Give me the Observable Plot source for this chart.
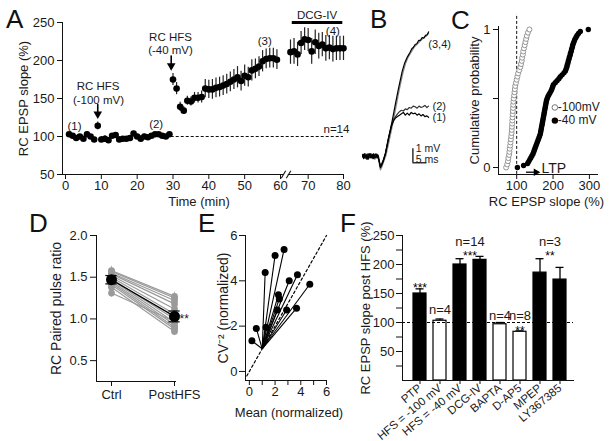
<!DOCTYPE html>
<html><head><meta charset="utf-8">
<script src="https://cdn.jsdelivr.net/npm/d3@7"></script>
<script src="https://cdn.jsdelivr.net/npm/@observablehq/plot@0.6"></script>
<style>
body{margin:0;background:#fff;}
#fig{position:relative;width:609px;height:441px;overflow:hidden;background:#fff;font-family:"Liberation Sans",Arial,Helvetica,sans-serif;color:#111;}
.p{position:absolute;}
.lt{position:absolute;font-size:26px;line-height:26px;color:#111;}
</style></head><body><div id="fig"></div>
<script>
// ---------- Panel A data ----------
const timeA = [1,2,3,4,5,6,7,8,9,10,11,12,13,14,15,16,17,18,19,20,21,22,23,24,25,26,27,28,29,
  30,31,32,33,34,35,36,37,38,39,40,41,42,43,44,45,46,47,48,49,50,51,52,53,54,55,56,57,58,59,
  65,66,67,68,69,70,71,72,73,74,75,76,77,78,79,80];
const slopeA = [103,101,98,100,97,103,100,96,114,96,97,95,101,102,96,97,97,98,104,100,97,100,99,101,103,103,101,100,103,
  175,163,139,134,147,146,151,151,152,163,162,162,164,165,167,169,172,175,178,173,180,178,187,189,192,199,202,203,203,201,
  211,212,208,223,228,227,212,224,219,221,216,217,215,216,216,216];
const semA = [2,2,2,2,2,3,2,3,5,4,4,3,2,3,4,3,3,3,3,3,4,3,2,2,2,2,2,2,2,
  8,8,6,5,6,6,7,7,8,12,12,13,13,13,13,13,13,13,14,13,14,13,14,13,13,14,13,13,13,13,
  16,17,16,15,15,15,17,16,17,16,17,16,17,16,16,16];
const ticksAx = [0,10,20,30,40,50,60,70,80];
const ticksAy = [50,100,150,200,250];
const notesA = [
  {t:9.1, v:165.5, s:"RC HFS"}, {t:9.2, v:148, s:"(-100 mV)"},
  {t:29.3, v:230, s:"RC HFS"}, {t:29.3, v:213.5, s:"(-40 mV)"},
  {t:2.5, v:113.5, s:"(1)"}, {t:25.3, v:116.5, s:"(2)"},
  {t:55.6, v:225.5, s:"(3)"}, {t:77, v:238, s:"(4)"},
  {t:72.5, v:259, s:"DCG-IV"}, {t:78, v:109.5, s:"n=14"}];
const arrowsA = [{t:9, y1:142, y2:129.5}, {t:29.5, y1:206, y2:193}];

// ---------- Panel B data (traces, ms / mV) ----------
const trace1 = [[0,0],[0.4,0.15],[0.8,-0.1],[1.2,0.1],[1.6,-0.2],[2,0.05],[2.4,0.2],[2.8,-0.1],[3.2,0.1],[3.6,-0.05],[4,0.2],[4.4,-0.1],[4.8,0],[5.2,0.15],[5.6,-0.1],[6,-0.35],[6.4,-0.7],[6.9,-0.55],[7.5,-0.25],[8.2,0.2],[9.3,1.3],[10.4,2.2],[11.1,2.55],[11.8,2.75],[12.5,2.85],[13.2,2.95],[13.9,3.05],[14.6,3.15],[15.3,2.95],[16,3.1],[16.7,2.95],[17.4,3.15],[18.1,3.05],[18.8,3.1],[19.5,2.95],[20.2,3.05],[20.9,2.9],[21.6,3],[22.3,2.85],[23,2.9],[23.6,2.8]];
const trace2 = [[0,0.15],[0.4,-0.1],[0.8,0.05],[1.2,-0.15],[1.6,0.1],[2,0.2],[2.4,-0.1],[2.8,0.1],[3.2,0.15],[3.6,-0.15],[4,0.05],[4.4,0.15],[4.8,-0.1],[5.2,0.05],[5.6,0.1],[6,-0.3],[6.4,-0.75],[6.9,-0.5],[7.5,-0.2],[8.2,0.25],[9.3,1.35],[10.4,2.25],[11.1,2.65],[11.8,2.85],[12.5,3.05],[13.2,3.2],[13.9,3.3],[14.6,3.25],[15.3,3.4],[16,3.35],[16.7,3.5],[17.4,3.45],[18.1,3.6],[18.8,3.55],[19.5,3.45],[20.2,3.6],[20.9,3.5],[21.6,3.55],[22.3,3.65],[23,3.5],[23.6,3.6]];
const trace3 = [[0,0.1],[0.4,-0.15],[0.8,0.2],[1.2,-0.05],[1.6,0.15],[2,-0.2],[2.4,0.1],[2.8,0.2],[3.2,-0.1],[3.6,0.15],[4,-0.15],[4.4,0.05],[4.8,0.2],[5.2,-0.1],[5.6,0.05],[6,-0.4],[6.4,-0.8],[6.9,-0.6],[7.5,-0.3],[8.2,0.2],[9.3,1.3],[10.6,2.55],[11.8,3.8],[12.9,4.9],[14.2,6.1],[15.1,6.7],[16,7.1],[17,7.45],[17.6,7.7],[18.2,7.8],[18.8,8],[19.4,8.05],[20.1,8.3],[20.7,8.3],[21.3,8.5],[21.9,8.45],[22.5,8.65],[23.1,8.7],[23.6,8.9]];
const trace4 = [[0,-0.05],[0.4,0.15],[0.8,-0.1],[1.2,0.2],[1.6,-0.15],[2,0.1],[2.4,-0.1],[2.8,0.05],[3.2,0.2],[3.6,-0.1],[4,0.1],[4.4,-0.2],[4.8,0.05],[5.2,0.15],[5.6,-0.1],[6,-0.5],[6.4,-0.95],[6.9,-0.75],[7.5,-0.4],[8.4,0.1],[9.5,1.1],[10.8,2.35],[12,3.6],[13.1,4.75],[14.4,5.95],[15.3,6.6],[16.2,7.05],[17.2,7.4],[18.4,7.8],[19.6,8.05],[20.9,8.3],[21.9,8.5],[22.8,8.6],[23.6,8.8]];
const labelsB = [{t:23.5, v:8.0, s:"(3,4)"}, {t:25, v:3.57, s:"(2)"}, {t:25, v:2.79, s:"(1)"}];

// ---------- Panel C data (EPSP slope %, sorted samples) ----------
const slopes100 = [71,74,76,77,79,80,81,82,83,84,85,86,86.5,87,87.5,88,88.5,89,89.5,90,90.5,91,92,93,94,95,96,98,100,102,104,107,110,112,114,115,117,118,120,122,124,126,128,131,135];
const slopes40 = [102,119,130,133,136,139,142,145,147,149,151,153,155,157,159,161,163,165,166,167,168,169,170,171,172,173,174,175,176,177,178,179,180,181,182,184,186,189,192,195,197,199,201,206,211,216,220,225,230,234,236,238,239,241,242,244,245,247,248,250,251,253,254,256,258,260,263,266,270,275,297];
const legendC = ["-100mV", "-40 mV"];

// ---------- Panel D data ----------
const ppCtrl = [1.58,1.57,1.55,1.54,1.52,1.50,1.48,1.47,1.45,1.43,1.41,1.38,1.31];
const ppPost = [1.27,1.25,1.22,1.18,1.12,1.06,1.00,0.96,0.93,0.90,0.88,0.85,0.97];
const ppMean = [1.47, 1.03];
const ppSem = [0.05, 0.065];
const condD = ["Ctrl", "PostHFS"];

// ---------- Panel E data ----------
const meanNorm = [0.2,0.54,1.23,1.3,2.0,2.7,2.26,2.33,2.18,2.9,3.1,3.74,3.67,4.7];
const cvNorm = [1.35,1.9,4.37,1.95,5.12,5.38,3.38,3.2,2.71,2.71,4.0,4.27,2.79,3.85];
const unity = [-0.2, 6];

// ---------- Panel F data ----------
const condF = ["PTP","HFS = -100 mV","HFS = -40 mV","DCG-IV","BAPTA","D-AP5","MPEP","LY367385"];
const slopeF = [150,103,200,208,97,84,186,174];
const semF = [8,3,10,6,3,1.5,24,21];
const filledF = [true,false,true,true,false,false,true,true];
const countsF = [{c:"HFS = -100 mV", v:122, s:"n=4"}, {c:"BAPTA", v:112, s:"n=4"}, {c:"D-AP5", v:111, s:"n=8"}];
const starsF = [{c:"PTP", v:160, s:"***"}, {c:"D-AP5", v:85, s:"**"}];
const countsF2 = [{c:"HFS = -40 mV", v:239, s:"n=14"}, {c:"MPEP", v:239, s:"n=3"}];
const starsF2 = [{c:"HFS = -40 mV", v:214, s:"***"}, {c:"MPEP", v:214, s:"**"}];

// ---------- helpers ----------
const FONT = '"Liberation Sans", Arial, Helvetica, sans-serif';
const ST = {background:"transparent", fontFamily:FONT, fontSize:"13px", color:"#111", overflow:"visible"};
const TXT = "#1a1a1a";
const fig = document.getElementById("fig");
function place(svg, left, top){ const d=document.createElement("div"); d.className="p"; d.style.left=left+"px"; d.style.top=top+"px"; d.appendChild(svg); fig.appendChild(d); }
function letter(ch, left, top){ const d=document.createElement("div"); d.className="lt"; d.style.left=left+"px"; d.style.top=top+"px"; d.textContent=ch; fig.appendChild(d); }
const ylab = (s, dx, fs=13) => Plot.text([s], {text:d=>d, frameAnchor:"left", rotate:-90, dx, fontSize:fs, fill:TXT, textAnchor:"middle", lineAnchor:"middle"});
const xlab = (s, dx, dy, fs=13) => Plot.text([s], {text:d=>d, frameAnchor:"bottom", dx, dy, fontSize:fs, fill:TXT, textAnchor:"middle", lineAnchor:"middle"});

// ---------- Panel A ----------
const dataA = timeA.map((t,i)=>({t, v:slopeA[i], e:semA[i]}));
place(Plot.plot({
  width:360, height:215, marginLeft:62, marginRight:17, marginTop:22, marginBottom:41, style:ST,
  x:{type:"linear", domain:[0,60,65,80], range:[65,280,290,343]},
  y:{domain:[50,250], range:[174,22]},
  marks:[
    Plot.frame({anchor:"left"}),
    Plot.frame({anchor:"bottom"}),
    Plot.rect([0], {x1:61.6, x2:63.9, y1:44, y2:56, fill:"white"}),
    Plot.link([61.5, 64], {x1:d=>d-1.1, x2:d=>d+1.1, y1:45, y2:55, stroke:"#111", strokeWidth:1.1}),
    Plot.axisY({ticks:ticksAy, tickFormat:d=>String(d), tickSize:5, tickPadding:3, fontSize:13, label:null, fill:TXT}),
    Plot.axisX({ticks:ticksAx, tickFormat:d=>String(d), tickSize:5, tickPadding:1, fontSize:13, label:null, fill:TXT}),
    Plot.ruleY([100], {x1:29.5, x2:80, strokeDasharray:"3,2", stroke:"#111"}),
    Plot.ruleX(dataA, {x:"t", y1:d=>d.v-d.e, y2:d=>d.v+d.e, stroke:"#222", strokeWidth:1.2}),
    Plot.dot(dataA, {x:"t", y:"v", r:3.3, fill:"#000"}),
    Plot.ruleY([250], {x1:65.5, x2:79.8, strokeWidth:3, stroke:"#000"}),
    Plot.ruleX(arrowsA, {x:"t", y1:"y1", y2:"y2", strokeWidth:1.6, stroke:"#000"}),
    Plot.dot(arrowsA, {x:"t", y:"y2", symbol:"triangle", rotate:180, r:3.2, fill:"#000"}),
    Plot.text(notesA, {x:"t", y:"v", text:"s", fontSize:11.5, fill:TXT, lineAnchor:"middle"}),
    ylab("RC EPSP slope (%)", -39),
    xlab("Time (min)", -4, 27)
  ]
}), 0, 0);

// ---------- Panel B ----------
place(Plot.plot({
  width:125, height:200, margin:0, style:ST,
  x:{domain:[0,25], range:[22,92], axis:null},
  y:{domain:[-1,9], range:[170,30], axis:null},
  marks:[
    Plot.line(trace4, {x:d=>d[0], y:d=>d[1], stroke:"#8a8a8a", strokeWidth:1.3}),
    Plot.line(trace2, {x:d=>d[0], y:d=>d[1], stroke:"#333", strokeWidth:1.2}),
    Plot.line(trace1, {x:d=>d[0], y:d=>d[1], stroke:"#000", strokeWidth:1.2}),
    Plot.line(trace3, {x:d=>d[0], y:d=>d[1], stroke:"#000", strokeWidth:1.2}),
    Plot.ruleX([18], {y1:-0.45, y2:0.55, stroke:"#000", strokeWidth:1.2}),
    Plot.ruleY([-0.45], {x1:18, x2:23, stroke:"#000", strokeWidth:1.2}),
    Plot.text(["1 mV"], {text:d=>d, x:19, y:0.58, textAnchor:"start", fontSize:10.5, fill:TXT}),
    Plot.text(["5 ms"], {text:d=>d, x:19, y:-0.24, textAnchor:"start", fontSize:10.5, fill:TXT}),
    Plot.text(labelsB, {x:"t", y:"v", text:"s", textAnchor:"start", fontSize:11, fill:TXT})
  ]
}), 340, 0);

// ---------- Panel C ----------
const cdf100 = slopes100.map((x,i)=>({x, p:i/(slopes100.length-1)}));
const cdf40 = slopes40.map((x,i)=>({x, p:i/(slopes40.length-1)}));
place(Plot.plot({
  width:169, height:215, marginLeft:58, marginRight:12, marginTop:26, marginBottom:41, style:ST,
  x:{domain:[50,325], range:[58,158]},
  y:{domain:[0,1], range:[167,29]},
  marks:[
    Plot.frame({anchor:"left"}),
    Plot.frame({anchor:"bottom"}),
    Plot.axisY({ticks:[0,0.5,1], tickFormat:d=>d===0.5?"":String(d), tickSize:5, tickPadding:3, fontSize:13, label:null, fill:TXT}),
    Plot.axisX({ticks:[100,200,300], tickFormat:d=>String(d), tickSize:5, tickPadding:1, fontSize:13, label:null, fill:TXT}),
    Plot.ruleX([100], {y1:-0.05, y2:1.11, strokeDasharray:"3,2", stroke:"#111"}),
    Plot.dot(cdf40, {x:"x", y:"p", r:2.7, fill:"#000"}),
    Plot.dot(cdf100, {x:"x", y:"p", r:2.5, fill:"white", stroke:"#888", strokeWidth:0.9}),
    Plot.dot([legendC[0]], {x:205, y:0.435, r:2.8, fill:"white", stroke:"#666", strokeWidth:0.9}),
    Plot.dot([legendC[1]], {x:205, y:0.34, r:3.2, fill:"#000"}),
    Plot.text(legendC, {text:d=>d, x:213, y:(d,i)=>i===0?0.435:0.34, textAnchor:"start", fontSize:12, fill:TXT}),
    Plot.ruleY([-0.034], {x1:127, x2:152, stroke:"#000", strokeWidth:1.3}),
    Plot.dot(["LTP"], {x:153, y:-0.034, symbol:"triangle", rotate:90, r:2.8, fill:"#000"}),
    Plot.text(["LTP"], {text:d=>d, x:168, y:-0.01, textAnchor:"start", fontSize:14, fill:TXT}),
    ylab("Cumulative probability", -24),
    xlab("RC EPSP slope (%)", -1.5, 27)
  ]
}), 440, 0);

// ---------- Panel D ----------
const pairsD = ppCtrl.map((c,i)=>({c, p:ppPost[i]}));
const ptsD = [...ppCtrl.map(v=>({x:0, v})), ...ppPost.map(v=>({x:1, v}))];
const meanD = ppMean.map((v,i)=>({x:i, v, e:ppSem[i]}));
place(Plot.plot({
  width:200, height:200, marginLeft:96, marginRight:25, marginTop:20, marginBottom:34, style:ST,
  x:{domain:[0,1], range:[111,174]},
  y:{domain:[0.25,2.0], range:[166,20]},
  marks:[
    Plot.frame({anchor:"left"}),
    Plot.frame({anchor:"bottom"}),
    Plot.axisY({ticks:[0.5,1.0,1.5,2.0], tickFormat:d3.format(".1f"), tickSize:6, tickPadding:3, fontSize:13, label:null, fill:TXT}),
    Plot.axisX({ticks:[0,1], tickFormat:i=>condD[i], tickSize:5, tickPadding:3, fontSize:13, label:null, fill:TXT}),
    Plot.ruleX(ptsD, {x:"x", y1:d=>d.v-0.05, y2:d=>d.v+0.05, stroke:"#b0b0b0", strokeWidth:1}),
    Plot.link(pairsD, {x1:0, x2:1, y1:"c", y2:"p", stroke:"#9a9a9a", strokeWidth:1.2}),
    Plot.dot(ptsD, {x:"x", y:"v", r:3.4, fill:"#9a9a9a"}),
    Plot.link([0], {x1:0, x2:1, y1:ppMean[0], y2:ppMean[1], stroke:"#000", strokeWidth:1.3}),
    Plot.ruleX(meanD, {x:"x", y1:d=>d.v-d.e, y2:d=>d.v+d.e, stroke:"#000", strokeWidth:1.2}),
    Plot.ruleY(meanD, {y:d=>d.v+d.e, x1:d=>d.x-0.09, x2:d=>d.x+0.09, stroke:"#000", strokeWidth:1.2}),
    Plot.ruleY(meanD, {y:d=>d.v-d.e, x1:d=>d.x-0.09, x2:d=>d.x+0.09, stroke:"#000", strokeWidth:1.2}),
    Plot.dot(meanD, {x:"x", y:"v", r:5.5, fill:"#000"}),
    Plot.text(["**"], {text:d=>d, x:1, y:1.0, dx:5, textAnchor:"start", fontSize:12, fill:TXT}),
    ylab("RC Paired pulse ratio", -39.5, 14)
  ]
}), 0, 215);

// ---------- Panel E ----------
const ptsE = meanNorm.map((m,i)=>({m, cv:cvNorm[i]}));
place(Plot.plot({
  width:150, height:200, marginLeft:45, marginRight:24, marginTop:20, marginBottom:35, style:ST,
  x:{domain:[-0.3,6], range:[45,126]},
  y:{domain:[-0.4,6], range:[165,20]},
  marks:[
    Plot.frame({anchor:"left"}),
    Plot.frame({anchor:"bottom"}),
    Plot.axisY({ticks:[0,2,4,6], tickFormat:d=>String(d), tickSize:6, tickPadding:2, fontSize:13, label:null, fill:TXT}),
    Plot.axisX({ticks:[0,1,2,3,4,5,6], tickFormat:d=>d%2===0?String(d):"", tickSize:5, tickPadding:1, fontSize:13, label:null, fill:TXT}),
    Plot.line(unity, {x:d=>d, y:d=>d, strokeDasharray:"2.5,2.5", stroke:"#000", strokeWidth:1.2}),
    Plot.link(ptsE, {x1:1, y1:1, x2:"m", y2:"cv", stroke:"#000", strokeWidth:1.1}),
    Plot.dot(ptsE, {x:"m", y:"cv", r:3.5, fill:"#000"}),
    ylab("CV\u207B\u00B2 (normalized)", -22, 14),
    xlab("Mean (normalized)", 3, 32)
  ]
}), 200, 215);

// ---------- Panel F ----------
const dataF = condF.map((c,i)=>({c, v:slopeF[i], e:semF[i], f:filledF[i]}));
place(Plot.plot({
  width:269, height:226, marginLeft:62, marginRight:36, marginTop:20, marginBottom:61, style:ST,
  x:{domain:condF, range:[69,229], paddingInner:0.35, paddingOuter:0.175},
  y:{domain:[0,250], range:[165,20]},
  marks:[
    Plot.ruleX(dataF, {x:"c", y1:"v", y2:d=>d.v+d.e, stroke:"#000", strokeWidth:1.3}),
    Plot.tickY(dataF, {x:"c", y:d=>d.v+d.e, insetLeft:2.5, insetRight:2.5, stroke:"#000", strokeWidth:1.3}),
    Plot.barY(dataF, {x:"c", y:"v", fill:d=>d.f?"#000":"#fff", stroke:"#000", strokeWidth:1.2}),
    Plot.ruleY([100], {strokeDasharray:"3,2", stroke:"#000", strokeWidth:1.1}),
    Plot.frame({anchor:"left"}),
    Plot.frame({anchor:"bottom"}),
    Plot.axisY({ticks:[25,50,75,100,125,150,175,200,225,250], tickFormat:d=>d%50===0?String(d):"", tickSize:6, tickPadding:2, fontSize:13, label:null, fill:TXT}),
    Plot.axisX({tickRotate:-40, tickSize:4, tickPadding:2, fontSize:11.5, label:null, fill:TXT}),
    Plot.text(countsF, {x:"c", y:"v", text:"s", fontSize:13, fill:TXT}),
    Plot.text(starsF, {x:"c", y:"v", text:"s", fontSize:12, fill:"#000"}),
    Plot.text(countsF2, {x:"c", y:"v", text:"s", dx:10, fontSize:13, fill:TXT}),
    Plot.text(starsF2, {x:"c", y:"v", text:"s", dx:10, fontSize:12, fill:"#000"}),
    ylab("RC EPSP slope post HFS (%)", -36.5, 13)
  ]
}), 340, 215);

// ---------- panel letters ----------
letter("A", 6, 6); letter("B", 370, 6); letter("C", 451, 7);
letter("D", 29, 210); letter("E", 198, 210); letter("F", 340, 210);
</script></body></html>
